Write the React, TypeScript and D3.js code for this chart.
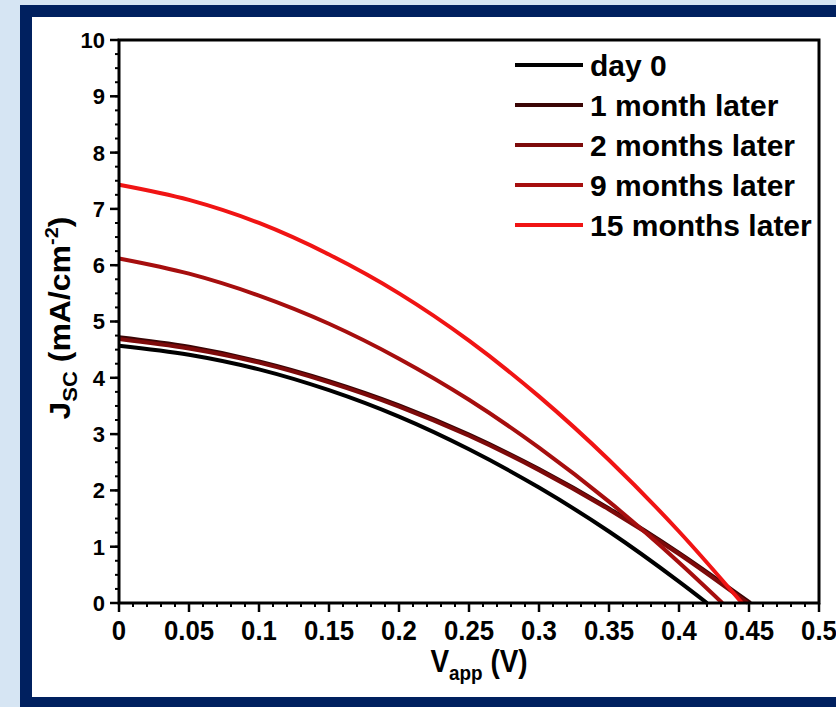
import React from "react";
import * as d3 from "d3";

const voltages = [0, 0.05, 0.1, 0.15, 0.2, 0.25, 0.3, 0.35, 0.4];
const seriesNames = ["day 0", "1 month later", "2 months later", "9 months later", "15 months later"];
const seriesColors = ["#000000", "#3a0505", "#7d0a0a", "#a60e0e", "#f01414"];
const day0 = [4.57, 4.41, 4.15, 3.78, 3.31, 2.73, 2.05, 1.27, 0.38];
const month1 = [4.72, 4.55, 4.29, 3.94, 3.51, 2.99, 2.38, 1.68, 0.89];
const month2 = [4.69, 4.52, 4.27, 3.92, 3.49, 2.97, 2.36, 1.66, 0.87];
const month9 = [6.12, 5.85, 5.46, 4.96, 4.34, 3.61, 2.76, 1.8, 0.72];
const month15 = [7.43, 7.16, 6.75, 6.19, 5.5, 4.66, 3.67, 2.54, 1.27];
const vocs = [0.42, 0.451, 0.449, 0.431, 0.445];
const xTicks = [0, 0.05, 0.1, 0.15, 0.2, 0.25, 0.3, 0.35, 0.4, 0.45, 0.5];
const xTickLabels = ["0", "0.05", "0.1", "0.15", "0.2", "0.25", "0.3", "0.35", "0.4", "0.45", "0.5"];
const yTicks = [0, 1, 2, 3, 4, 5, 6, 7, 8, 9, 10];

const W = 836;
const H = 707;
const L = 119, R = 819, T = 40, B = 603;
const FONT = "'Liberation Sans', Arial, sans-serif";

export default function App() {
  const x = d3.scaleLinear().domain([0, 0.5]).range([L, R]);
  const y = d3.scaleLinear().domain([0, 10]).range([B, T]);
  const allSeries = [day0, month1, month2, month9, month15];
  const line = d3
    .line<[number, number]>()
    .x((d) => x(d[0]))
    .y((d) => y(d[1]))
    .curve(d3.curveMonotoneX);

  const xMinor = d3.range(0, 0.5001, 0.01);
  const yMinor = d3.range(0, 10.001, 0.25);
  const legendY0 = 65;
  const legendStep = 40;

  return (
    <svg width={W} height={H} style={{ position: "absolute", left: 0, top: 0 }} fontFamily={FONT}>
      <rect x={0} y={0} width={W} height={H} fill="#d6e5f3" />
      <rect x={20} y={5} width={W} height={H} fill="#00205f" />
      <rect x={32} y={17} width={W} height={680} fill="#ffffff" />
      <g>
        {allSeries.map((s, i) => {
          const pts: [number, number][] = voltages.map((v, j) => [v, s[j]] as [number, number]);
          pts.push([vocs[i], 0]);
          return (
            <path key={i} d={line(pts) || ""} fill="none" stroke={seriesColors[i]} strokeWidth={4} />
          );
        })}
      </g>
      <rect x={L} y={T} width={R - L} height={B - T} fill="none" stroke="#000" strokeWidth={3} />
      {yMinor.map((v, i) => (
        <line key={"ym" + i} x1={L - 4} x2={L} y1={y(v)} y2={y(v)} stroke="#000" strokeWidth={2} />
      ))}
      {yTicks.map((v) => (
        <g key={"y" + v}>
          <line x1={L - 9} x2={L} y1={y(v)} y2={y(v)} stroke="#000" strokeWidth={2.5} />
          <text x={L - 14} y={y(v)} dy="0.36em" textAnchor="end" fontSize={22} fontWeight="bold">
            {v}
          </text>
        </g>
      ))}
      {xMinor.map((v, i) => (
        <line key={"xm" + i} x1={x(v)} x2={x(v)} y1={B} y2={B + 4} stroke="#000" strokeWidth={2} />
      ))}
      {xTicks.map((v, i) => (
        <g key={"x" + i}>
          <line x1={x(v)} x2={x(v)} y1={B} y2={B + 9} stroke="#000" strokeWidth={2.5} />
          <text
            transform={`translate(${x(v)},${B + 37}) scale(0.92,1)`}
            textAnchor="middle"
            fontSize={28}
            fontWeight="bold"
          >
            {xTickLabels[i]}
          </text>
        </g>
      ))}
      <text transform={`translate(479,672) scale(0.9,1)`} textAnchor="middle" fontSize={31} fontWeight="bold">
        V<tspan fontSize={21} dy={8}>app</tspan>
        <tspan dy={-8}> (V)</tspan>
      </text>
      <text transform={`translate(70,318) rotate(-90) scale(1,0.9)`} textAnchor="middle" fontSize={32} fontWeight="bold">
        J<tspan fontSize={22} dy={8}>SC</tspan>
        <tspan dy={-8}> (mA/cm</tspan>
        <tspan fontSize={20} dy={-13}>-2</tspan>
        <tspan dy={13}>)</tspan>
      </text>
      {seriesNames.map((n, i) => (
        <g key={n}>
          <line x1={515} x2={583} y1={legendY0 + i * legendStep} y2={legendY0 + i * legendStep} stroke={seriesColors[i]} strokeWidth={4} />
          <text x={590} y={legendY0 + i * legendStep} dy="0.36em" fontSize={30} fontWeight="bold">
            {n}
          </text>
        </g>
      ))}
    </svg>
  );
}
